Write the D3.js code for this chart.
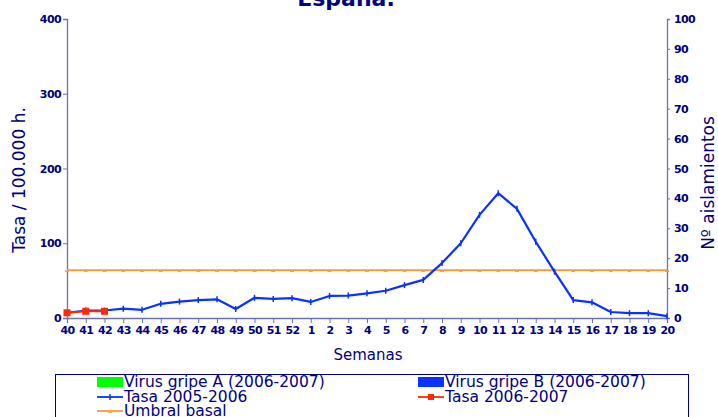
<!DOCTYPE html>
<html>
<head>
<meta charset="utf-8">
<script src="https://cdn.jsdelivr.net/npm/d3@7"></script>
<style>
  body { margin: 0; background: #fff; }
  svg { display: block; }
  text { fill: #000080; }
</style>
</head>
<body>
<svg id="chart"></svg>
<script>
// weeks of the flu season, 40..52 then 1..20
const weeks = [40,41,42,43,44,45,46,47,48,49,50,51,52,1,2,3,4,5,6,7,8,9,10,11,12,13,14,15,16,17,18,19,20];
// Tasa 2005-2006
const tasa0506 = [7,10,10,12.5,11,19,22,24,25,12,27,25.5,26.5,21.5,29.5,30,33,36.5,44,51,73.5,100,138,167,146,102,62,24,21,8,6.5,6.5,2.5];
// Tasa 2006-2007 (only first weeks)
const tasa0607 = [7,9,9];
// Umbral basal
const umbral = weeks.map(() => 64);
// virus bars (no data yet)
const virusA = [];
const virusB = [];

const leftTicks = [0,100,200,300,400];
const rightTicks = [0,10,20,30,40,50,60,70,80,90,100];

width = 718
height = 417
marginLeft = 67
marginRight = 51
marginTop = 19
marginBottom = 99

const svg = d3.select('#chart')
  .attr('width', width)
  .attr('height', height)
  .attr('viewBox', [0, 0, width, height]);

const x = d3.scalePoint()
  .domain(d3.range(weeks.length))
  .range([marginLeft, width - marginRight]);

const y = d3.scaleLinear()
  .domain([0, 400])
  .range([height - marginBottom, marginTop]);

const y2 = d3.scaleLinear()
  .domain([0, 100])
  .range([height - marginBottom, marginTop]);

const axisColor = '#6a73b0';
const tickFont = 'DejaVu Sans, Verdana, sans-serif';

// title (clipped at top)
svg.append('text')
  .text('España.')
  .attr('x', 346)
  .attr('y', 6)
  .attr('text-anchor', 'middle')
  .style('font-family', tickFont)
  .style('font-weight', 'bold')
  .style('font-size', '22px')
  .attr('fill', '#000066');

// left axis
const gy = svg.append('g')
  .attr('transform', `translate(${marginLeft},0)`)
  .call(d3.axisLeft(y).tickValues(leftTicks).tickSize(4).tickPadding(2));

// right axis
const gy2 = svg.append('g')
  .attr('transform', `translate(${width - marginRight},0)`)
  .call(d3.axisRight(y2).tickValues(rightTicks).tickSize(3).tickPadding(4));

// x axis
const gx = svg.append('g')
  .attr('transform', `translate(0,${height - marginBottom})`)
  .call(d3.axisBottom(x).tickFormat(i => weeks[i]).tickSize(5).tickPadding(3));

[gy, gy2, gx].forEach(g => {
  g.select('.domain').attr('stroke', axisColor).attr('stroke-width', 1.3);
  g.selectAll('.tick line').attr('stroke', axisColor);
  g.selectAll('.tick text')
    .attr('fill', '#000080')
    .style('font-family', tickFont)
    .style('font-weight', 'bold')
    .style('font-size', '11px')
    .style('letter-spacing', '-0.6px');
});

// axis titles
svg.append('text')
  .text('Tasa / 100.000 h.')
  .attr('transform', `translate(25,180) rotate(-90)`)
  .attr('text-anchor', 'middle')
  .style('font-family', tickFont)
  .style('font-size', '17px');

svg.append('text')
  .text('Nº aislamientos')
  .attr('transform', `translate(714,183) rotate(-90)`)
  .attr('text-anchor', 'middle')
  .style('font-family', tickFont)
  .style('font-size', '17px');

svg.append('text')
  .text('Semanas')
  .attr('x', 368)
  .attr('y', 360)
  .attr('text-anchor', 'middle')
  .style('font-family', tickFont)
  .style('font-size', '15px');

const line = d3.line()
  .x((d, i) => x(i))
  .y(d => y(d));

// umbral basal
svg.append('path')
  .datum(umbral)
  .attr('d', line)
  .attr('fill', 'none')
  .attr('stroke', '#ff9933')
  .attr('stroke-width', 1.6);
svg.append('g').selectAll('line')
  .data(umbral)
  .enter().append('line')
  .attr('x1', (d, i) => x(i) - 2)
  .attr('x2', (d, i) => x(i) + 2)
  .attr('y1', d => y(d) + 1)
  .attr('y2', d => y(d) + 1)
  .attr('stroke', '#ff9933')
  .attr('stroke-width', 1.5);

// tasa 2005-2006
svg.append('path')
  .datum(tasa0506)
  .attr('d', line)
  .attr('fill', 'none')
  .attr('stroke', '#0a32ff')
  .attr('stroke-width', 2.2)
  .attr('stroke-linejoin', 'round');
svg.append('g').selectAll('line')
  .data(tasa0506)
  .enter().append('line')
  .attr('x1', (d, i) => x(i))
  .attr('x2', (d, i) => x(i))
  .attr('y1', d => y(d) - 3)
  .attr('y2', d => y(d) + 3)
  .attr('stroke', '#0a32ff')
  .attr('stroke-width', 1.5);

// tasa 2006-2007
svg.append('path')
  .datum(tasa0607)
  .attr('d', line)
  .attr('fill', 'none')
  .attr('stroke', '#ff2a00')
  .attr('stroke-width', 1.8);
svg.append('g').selectAll('rect')
  .data(tasa0607)
  .enter().append('rect')
  .attr('x', (d, i) => x(i) - 3.5)
  .attr('y', d => y(d) - 3.5)
  .attr('width', 7)
  .attr('height', 7)
  .attr('fill', '#ff2a00');

// legend
const legend = svg.append('g');
legend.append('rect')
  .attr('x', 55.5)
  .attr('y', 374.5)
  .attr('width', 633)
  .attr('height', 60)
  .attr('fill', '#fff')
  .attr('stroke', '#000080')
  .attr('stroke-width', 1);

const legendItems = [
  {label: 'Virus gripe A (2006-2007)', kind: 'box', color: '#00ff00', lx: 97, ly: 382},
  {label: 'Virus gripe B (2006-2007)', kind: 'box', color: '#0a32ff', lx: 418, ly: 382},
  {label: 'Tasa 2005-2006', kind: 'tick', color: '#0a32ff', lx: 97, ly: 397},
  {label: 'Tasa 2006-2007', kind: 'square', color: '#ff2a00', lx: 418, ly: 397},
  {label: 'Umbral basal', kind: 'dash', color: '#ff9933', lx: 97, ly: 411}
];

legendItems.forEach(it => {
  if (it.kind == 'box') {
    legend.append('rect')
      .attr('x', it.lx).attr('y', it.ly - 5)
      .attr('width', 26).attr('height', 10)
      .attr('fill', it.color);
  } else {
    legend.append('line')
      .attr('x1', it.lx).attr('x2', it.lx + 26)
      .attr('y1', it.ly).attr('y2', it.ly)
      .attr('stroke', it.color).attr('stroke-width', 1.8);
    if (it.kind == 'square') {
      legend.append('rect')
        .attr('x', it.lx + 10).attr('y', it.ly - 3)
        .attr('width', 6).attr('height', 6)
        .attr('fill', it.color);
    } else if (it.kind == 'tick') {
      legend.append('line')
        .attr('x1', it.lx + 13).attr('x2', it.lx + 13)
        .attr('y1', it.ly - 3).attr('y2', it.ly + 3)
        .attr('stroke', it.color).attr('stroke-width', 1.5);
    } else {
      legend.append('line')
        .attr('x1', it.lx + 11).attr('x2', it.lx + 15)
        .attr('y1', it.ly + 1).attr('y2', it.ly + 1)
        .attr('stroke', it.color).attr('stroke-width', 1.5);
    }
  }
  legend.append('text')
    .text(it.label)
    .attr('x', it.lx + 27)
    .attr('y', it.ly)
    .attr('dominant-baseline', 'central')
    .style('font-family', tickFont)
    .style('font-size', '15.5px');
});
</script>
</body>
</html>
